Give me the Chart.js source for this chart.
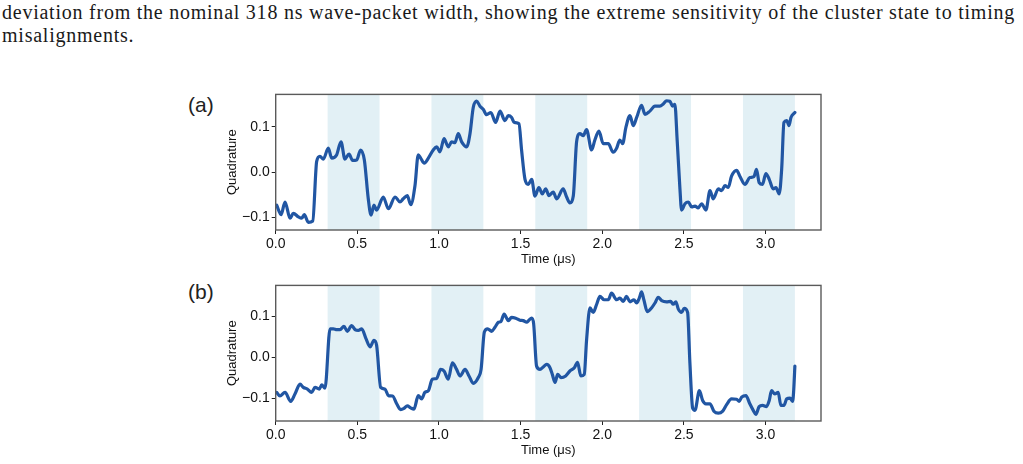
<!DOCTYPE html>
<html>
<head>
<meta charset="utf-8">
<script src="https://cdn.jsdelivr.net/npm/chart.js@4.4.1/dist/chart.umd.min.js"></script>
<style>
  html, body { margin:0; padding:0; background:#fff; }
  body { width:1023px; height:464px; position:relative; overflow:hidden; }
  #cap { position:absolute; left:2px; top:1px; width:1020px; font-family:'Liberation Serif', serif; font-size:20px; line-height:23px; color:#1a1a1a; white-space:nowrap; }
  .panel { position:absolute; left:170px; width:660px; height:186px; }
  .tag { position:absolute; font-family:'Liberation Sans', Arial, sans-serif; font-size:21px; color:#222; }
</style>
</head>
<body>
<div id="cap"><div id="line1">deviation from the nominal 318 ns wave-packet width, showing the extreme sensitivity of the cluster state to timing</div><div id="line2">misalignments.</div></div>
<div class="tag" style="left:188px; top:93px;">(a)</div>
<div class="tag" style="left:188px; top:280px;">(b)</div>
<div class="panel" style="top:84px;"><canvas id="ca" width="660" height="186"></canvas></div>
<div class="panel" style="top:275px;"><canvas id="cb" width="660" height="186"></canvas></div>
<script>
// ---- data ----
const timeA = [0.006,0.033,0.057,0.088,0.108,0.139,0.159,0.175,0.2,0.227,
0.251,0.271,0.292,0.322,0.343,0.373,0.4,0.424,0.449,0.471,
0.496,0.52,0.543,0.567,0.584,0.602,0.618,0.659,0.69,0.731,
0.761,0.781,0.806,0.827,0.853,0.873,0.888,0.91,0.935,0.965,
0.986,1.006,1.031,1.057,1.078,1.098,1.118,1.139,1.17,1.19,
1.21,1.231,1.251,1.271,1.292,1.318,1.347,1.374,1.404,1.425,
1.445,1.461,1.49,1.506,1.527,1.547,1.568,1.588,1.612,1.633,
1.654,1.674,1.7,1.721,1.761,1.782,1.802,1.823,1.843,1.863,
1.884,1.904,1.935,1.955,1.98,2.006,2.037,2.067,2.088,2.108,
2.125,2.145,2.17,2.19,2.211,2.241,2.262,2.292,2.323,2.353,
2.374,2.394,2.414,2.431,2.445,2.459,2.476,2.486,2.507,2.527,
2.548,2.568,2.588,2.609,2.635,2.66,2.68,2.711,2.731,2.752,
2.772,2.792,2.823,2.843,2.874,2.904,2.929,2.945,2.961,2.982,
3.002,3.023,3.047,3.064,3.084,3.099,3.113,3.13,3.144,3.156,
3.18];
const quadA = [-0.073,-0.094,-0.066,-0.102,-0.091,-0.099,-0.102,-0.094,-0.111,-0.108,
0.024,0.035,0.029,0.053,0.031,0.038,0.067,0.029,0.04,0.026,
0.027,0.049,0.027,-0.059,-0.095,-0.073,-0.084,-0.055,-0.081,-0.055,
-0.066,-0.059,-0.052,-0.072,-0.030,0.038,0.031,0.020,0.031,0.049,
0.056,0.045,0.074,0.056,0.067,0.065,0.085,0.067,0.056,0.085,
0.143,0.157,0.146,0.139,0.127,0.132,0.110,0.135,0.114,0.125,
0.121,0.110,0.107,0.049,-0.016,-0.027,-0.016,-0.053,-0.034,-0.048,
-0.037,-0.052,-0.044,-0.059,-0.037,-0.055,-0.068,-0.052,0.067,0.085,
0.081,0.094,0.049,0.071,0.091,0.063,0.063,0.044,0.053,0.071,
0.063,0.099,0.125,0.103,0.121,0.148,0.128,0.135,0.146,0.146,
0.151,0.158,0.157,0.146,0.150,0.071,-0.037,-0.084,-0.070,-0.066,
-0.077,-0.075,-0.079,-0.070,-0.084,-0.041,-0.059,-0.037,-0.041,-0.030,
-0.034,-0.009,0.004,-0.009,-0.027,-0.012,-0.010,0.006,-0.023,-0.027,
-0.003,-0.016,-0.037,-0.034,-0.048,0.006,0.110,0.114,0.103,0.121,
0.132];
const timeB = [0.006,0.026,0.057,0.092,0.118,0.149,0.169,0.194,0.22,0.241,
0.267,0.282,0.302,0.333,0.353,0.374,0.394,0.418,0.439,0.465,
0.486,0.506,0.527,0.553,0.578,0.602,0.618,0.643,0.669,0.69,
0.716,0.741,0.765,0.786,0.806,0.827,0.847,0.873,0.894,0.914,
0.935,0.959,0.986,1.01,1.031,
1.057,1.082,1.108,1.129,1.16,1.184,1.21,1.241,1.258,1.278,
1.298,1.323,1.343,1.364,1.38,1.399,1.425,1.445,1.47,1.496,
1.516,1.537,1.551,1.568,1.58,1.598,1.619,1.639,1.66,1.68,
1.694,1.711,1.727,1.747,1.776,1.802,1.829,1.849,1.869,1.89,
1.904,1.925,1.945,1.966,1.986,2.012,2.037,2.057,2.088,
2.108,2.129,2.149,2.17,2.194,2.211,2.227,2.241,2.255,2.276,
2.302,2.323,2.343,2.364,2.394,2.419,2.435,2.451,2.466,2.486,
2.502,2.523,2.537,2.554,2.568,2.595,2.615,2.635,2.66,2.684,
2.711,2.738,2.762,2.792,2.823,2.839,2.854,2.88,2.904,2.925,
2.941,2.961,2.982,3.006,3.023,3.037,3.057,3.078,3.094,3.113,
3.13,3.15,3.166,3.172,3.18];
const quadB = [-0.086,-0.095,-0.086,-0.108,-0.090,-0.066,-0.074,-0.078,-0.086,-0.074,
-0.078,-0.068,-0.076,0.069,0.069,0.067,0.067,0.075,0.063,0.077,
0.067,0.065,0.069,0.045,0.025,0.041,0.029,-0.074,-0.078,-0.094,
-0.095,-0.114,-0.128,-0.125,-0.119,-0.124,-0.127,-0.094,-0.102,-0.086,
-0.082,-0.054,-0.052,-0.030,-0.034,
-0.054,-0.014,-0.030,-0.046,-0.030,-0.046,-0.064,-0.050,-0.030,0.061,
0.069,0.063,0.073,0.085,0.087,0.105,0.089,0.097,0.095,0.090,
0.089,0.085,0.090,0.095,0.081,-0.022,-0.030,-0.024,-0.018,-0.026,
-0.042,-0.062,-0.042,-0.050,-0.046,-0.034,-0.026,-0.013,-0.046,-0.042,
0.041,0.120,0.109,0.129,0.148,0.140,0.140,0.156,0.140,
0.144,0.136,0.148,0.135,0.140,0.132,0.144,0.159,0.140,0.111,
0.120,0.132,0.146,0.138,0.135,0.136,0.129,0.135,0.117,0.109,
0.119,0.109,-0.014,-0.125,-0.130,-0.082,-0.106,-0.114,-0.114,-0.132,
-0.137,-0.132,-0.116,-0.102,-0.103,-0.108,-0.098,-0.094,-0.114,-0.130,
-0.140,-0.121,-0.118,-0.121,-0.106,-0.082,-0.090,-0.086,-0.118,-0.118,
-0.102,-0.100,-0.108,-0.086,-0.022];
const bandStart = [0.318, 0.954, 1.590, 2.226, 2.862];
const bandEnd   = [0.636, 1.272, 1.908, 2.544, 3.180];
const xTicks = [0, 0.5, 1.0, 1.5, 2.0, 2.5, 3.0];
const xTickLabels = ['0.0','0.5','1.0','1.5','2.0','2.5','3.0'];
const yTicks = [-0.1, 0, 0.1];
const yTickLabels = ['\u22120.1','0.0','0.1'];
const xLabel = 'Time (\u03bcs)';
const yLabel = 'Quadrature';

// ---- caption fitting (letter spacing so line 1 fills the width) ----
(function fitCaption() {
  const l1 = document.getElementById('line1');
  const cap = document.getElementById('cap');
  const target = 1013;
  const c = document.createElement('canvas').getContext('2d');
  c.font = "20px 'Liberation Serif'";
  const w = c.measureText(l1.textContent).width;
  const ls = (target - w) / l1.textContent.length;
  cap.style.letterSpacing = ls.toFixed(3) + 'px';
})();

// ---- drawing ----
const LINE = '#2156a3';
const BAND = '#e2f0f5';
const FONT = "'Liberation Sans', Arial, sans-serif";

const bandsPlugin = {
  id: 'bands',
  beforeDatasetsDraw(chart) {
    const {ctx, chartArea, scales} = chart;
    ctx.save();
    ctx.fillStyle = BAND;
    for (let i = 0; i < bandStart.length; i++) {
      const x0 = scales.x.getPixelForValue(bandStart[i]);
      const x1 = scales.x.getPixelForValue(bandEnd[i]);
      ctx.fillRect(x0, chartArea.top, x1 - x0, chartArea.bottom - chartArea.top);
    }
    ctx.restore();
  },
  afterDraw(chart) {
    const {ctx, chartArea} = chart;
    ctx.save();
    ctx.strokeStyle = '#5a5a5a';
    ctx.lineWidth = 1.4;
    ctx.strokeRect(chartArea.left, chartArea.top, chartArea.right - chartArea.left, chartArea.bottom - chartArea.top);
    ctx.restore();
  }
};

function makeChart(id, times, values, ymin, ymax, padTop) {
  const pts = times.map((t, i) => ({x: t, y: values[i]}));
  return new Chart(document.getElementById(id), {
    type: 'line',
    data: { datasets: [{ data: pts, borderColor: LINE, borderWidth: 3.2, pointRadius: 0,
      borderJoinStyle: 'round', borderCapStyle: 'round', cubicInterpolationMode: 'monotone', fill: false }] },
    options: {
      responsive: false, animation: false, devicePixelRatio: 1,
      layout: { padding: { left: 51, top: padTop, right: 9, bottom: 0 } },
      plugins: { legend: { display: false }, tooltip: { enabled: false } },
      scales: {
        x: {
          type: 'linear', min: 0, max: 3.34,
          afterBuildTicks: s => { s.ticks = xTicks.map(v => ({value: v})); },
          afterFit: s => { s.height = 40; },
          ticks: { font: { family: FONT, size: 14 }, color: '#111', padding: 2, maxRotation: 0,
                   callback: (v) => xTickLabels[xTicks.indexOf(v)] },
          grid: { display: true, drawOnChartArea: false, drawTicks: true, tickLength: 4, color: '#222', lineWidth: 1 },
          border: { display: false },
          title: { display: true, text: xLabel, font: { family: FONT, size: 13 }, color: '#111', padding: { top: 0, bottom: 3 } }
        },
        y: {
          type: 'linear', min: ymin, max: ymax,
          afterBuildTicks: s => { s.ticks = yTicks.map(v => ({value: v})); },
          afterFit: s => { s.width = 54.7; },
          ticks: { font: { family: FONT, size: 14 }, color: '#111', padding: 2,
                   callback: (v) => yTickLabels[yTicks.findIndex(t => Math.abs(t - v) < 1e-9)] },
          grid: { display: true, drawOnChartArea: false, drawTicks: true, tickLength: 4, color: '#222', lineWidth: 1 },
          border: { display: false },
          title: { display: true, text: yLabel, font: { family: FONT, size: 13 }, color: '#111', padding: { top: 4, bottom: 0 } }
        }
      }
    },
    plugins: [bandsPlugin]
  });
}

makeChart('ca', timeA, quadA, -0.128, 0.172, 7);
makeChart('cb', timeB, quadB, -0.156, 0.175, 6.7);
</script>
</body>
</html>
